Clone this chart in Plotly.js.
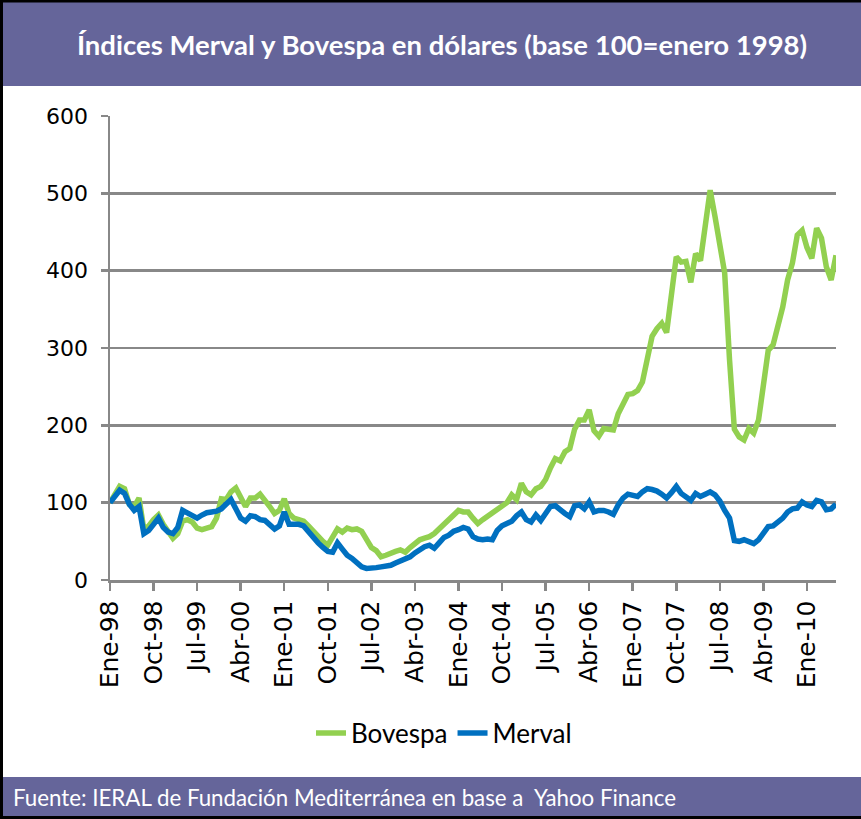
<!DOCTYPE html>
<html>
<head>
<meta charset="utf-8">
<script src="https://cdn.plot.ly/plotly-3.0.1.min.js"></script>
<style>
html,body{margin:0;padding:0;background:#fff;}
#chart{width:861px;height:819px;}
</style>
</head>
<body>
<div id="chart"></div>
<script>
// Month abbreviations (Spanish) and years used to build the monthly categories
const monthNames = ["Ene","Feb","Mar","Abr","May","Jun","Jul","Ago","Sep","Oct","Nov","Dic"];
const startYear = 1998;

// Bovespa index in US dollars (base 100 = January 1998), monthly Jan-98 .. Jul-10
const bovespa = [
 100,112,121,118,98,95,106,65,70,78,
 84,72,62,54,60,76,78,75,67,65,
 67,69,80,105,104,114,119,105,95,106,
 106,111,104,95,86,90,105,86,80,78,
 76,70,63,56,50,45,56,66,62,67,
 65,66,63,52,42,38,30,32,35,37,
 39,36,42,48,52,54,56,60,66,73,
 80,85,90,88,88,80,73,78,82,86,
 90,95,100,110,104,125,114,110,118,121,
 130,145,157,154,166,170,195,207,207,220,
 193,186,196,195,194,215,228,240,241,245,
 256,290,315,325,332,320,370,418,411,412,
 385,422,413,460,504,470,435,397,285,195,
 185,181,196,190,207,254,297,304,327,353,
 388,410,446,452,430,416,455,442,405,388,420
];

// Merval index in US dollars (base 100 = January 1998), monthly Jan-98 .. Jul-10
const merval = [
 100,108,116,112,98,90,95,60,64,72,
 80,68,62,60,68,90,86,82,80,84,
 87,88,89,92,97,104,92,80,76,83,
 82,78,77,72,66,70,88,72,72,72,
 70,62,54,48,42,37,36,48,40,32,
 28,22,17,15,15,16,17,18,19,22,
 25,28,30,35,40,43,45,41,48,55,
 58,63,65,68,66,56,53,52,53,52,
 64,70,73,76,83,88,78,75,84,77,
 86,95,96,90,86,82,96,97,92,101,
 88,90,90,88,85,97,106,111,110,108,
 114,118,117,115,111,106,113,121,112,108,
 103,112,108,111,114,110,102,90,80,51,
 50,52,50,47,52,62,69,70,74,80,
 88,92,93,101,97,95,103,101,91,92,98
];

// Category labels
const categories = [];
for (let i = 0; i < bovespa.length; i++) {
  const m = i % 12;
  const y = startYear + Math.floor(i / 12);
  categories.push(monthNames[m] + "-" + String(y % 100).padStart(2, "0"));
}
// Tick labels: every 9th month
const tickLabels = categories.filter((c, i) => i % 9 === 0);

const titleText = "Índices Merval y Bovespa en dólares (base 100=enero 1998)";
const sourceText = "Fuente: IERAL de Fundación Mediterránea en base a  Yahoo Finance";

// Layout geometry (pixels)
const W = 861, H = 819;
const L = 110, R = 25, T = 116, B = 239;
const pw = W - L - R, ph = H - T - B;
const px = x => (x - L) / pw;
const py = y => (H - B - y) / ph;

const purple = "#65659a";
const grid = "#888888";

const traces = [
  {x: categories, y: bovespa, name: "Bovespa", type: "scatter", mode: "lines",
   line: {color: "#92d050", width: 5.5}},
  {x: categories, y: merval, name: "Merval", type: "scatter", mode: "lines",
   line: {color: "#0070c0", width: 5.5}}
];

const layout = {
  width: W, height: H,
  margin: {l: L, r: R, t: T, b: B},
  paper_bgcolor: "#ffffff",
  plot_bgcolor: "#ffffff",
  showlegend: true,
  title: {
    text: "<b>" + titleText + "</b>",
    font: {family: "Lato, 'Open Sans', sans-serif", size: 27.5, color: "#ffffff"},
    xref: "container", x: 442 / W, xanchor: "center",
    yref: "container", y: 1 - 45 / H, yanchor: "middle"
  },
  xaxis: {
    type: "category",
    range: [0, bovespa.length - 1],
    tickmode: "array",
    tickvals: tickLabels,
    ticktext: tickLabels,
    tickangle: -90,
    ticks: "outside", ticklen: 8, tickwidth: 2.5, tickcolor: grid,
    showline: true, linecolor: grid, linewidth: 2.5,
    showgrid: false, zeroline: false,
    tickfont: {family: "'DejaVu Sans', sans-serif", size: 25, color: "#000"},
    fixedrange: true
  },
  yaxis: {
    range: [0, 600],
    tickmode: "linear", tick0: 0, dtick: 100,
    ticks: "outside", ticklen: 7, tickwidth: 2.5, tickcolor: grid,
    showline: true, linecolor: grid, linewidth: 2.5,
    showgrid: true, gridcolor: grid, gridwidth: 2.5,
    zeroline: false,
    ticklabelstandoff: 8,
    tickfont: {family: "'DejaVu Sans', sans-serif", size: 22, color: "#000"},
    fixedrange: true
  },
  legend: {
    orientation: "h",
    x: px(444), xanchor: "center",
    y: py(733), yanchor: "middle",
    font: {family: "Lato, 'Open Sans', sans-serif", size: 26, color: "#000"},
    bgcolor: "rgba(0,0,0,0)"
  },
  shapes: [
    {type: "rect", xref: "paper", yref: "paper", layer: "below",
     x0: px(0), x1: px(W), y0: py(86), y1: py(2),
     fillcolor: purple, line: {width: 0}},
    {type: "rect", xref: "paper", yref: "paper", layer: "below",
     x0: px(0), x1: px(W), y0: py(816), y1: py(777),
     fillcolor: purple, line: {width: 0}},
    {type: "rect", xref: "paper", yref: "paper", layer: "above",
     x0: px(1.5), x1: px(W + 5), y0: py(817.5), y1: py(1),
     fillcolor: "rgba(0,0,0,0)", line: {color: "#000", width: 3}}
  ],
  annotations: [
    {text: sourceText, xref: "paper", yref: "paper",
     x: px(11), xanchor: "left", y: py(797), yanchor: "middle",
     showarrow: false,
     font: {family: "Lato, 'Open Sans', sans-serif", size: 22.3, color: "#ffffff"}}
  ]
};

Plotly.newPlot("chart", traces, layout, {displayModeBar: false, staticPlot: true});
</script>
</body>
</html>
